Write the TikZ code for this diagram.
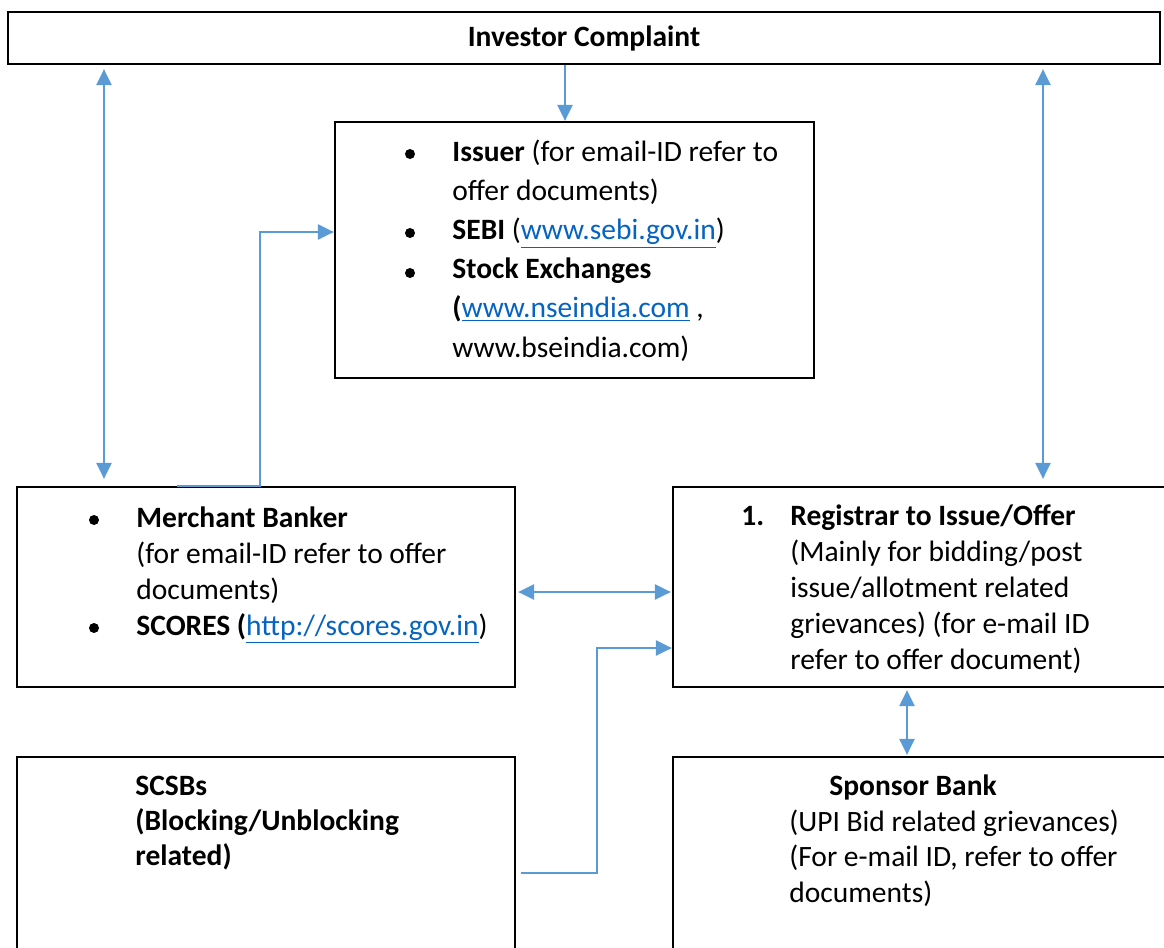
\documentclass[tikz,border=0pt]{standalone}
\usepackage{fontspec}
\setmainfont{Carlito}
\usetikzlibrary{positioning,arrows.meta,fit,calc}
\definecolor{pfeil}{RGB}{91,155,213}
\definecolor{link}{RGB}{5,99,193}
\tikzset{>=latex}
\newcommand\web[1]{\textcolor{link}{\underline{#1}}}

\begin{document}
\begin{tikzpicture}[x=0.5pt,y=-0.5pt]
        \fontsize{14.75}{18}\selectfont
        \tikzset{
        box/.style={draw=black, line width=1.1pt, inner sep=0pt},
        txt/.style={anchor=base west, inner sep=0pt, align=left}, % base = last line
        dot/.style={circle, fill=black, minimum size=5pt, inner sep=0pt},
        conn/.style={draw=pfeil, line width=1.25pt},
        tip/.style={-{Triangle[length=8pt,width=7.5pt]}},
        tips/.style={{Triangle[length=8pt,width=7.5pt]}-{Triangle[length=8pt,width=7.5pt]}},
        }

        \clip (0,0) rectangle (1164,948);

        % Boxes.
        \node[box, fit={(8,12) (1160,64)}]   (ic) {};
        \node[box, fit={(335,122) (814,378)}] (is) {};
        \node[box, fit={(17,487) (515,687)}]  (mb) {};
        \node[box, fit={(673,487) (1175,687)}] (rg) {};
        \node[box, fit={(17,757) (515,960)}]  (sc) {};
        \node[box, fit={(673,757) (1175,960)}] (sp) {};

        \path (ic.center) node[font=\bfseries] (ictext) {Investor Complaint};

        % Issuer, SEBI, stock exchanges.
        \foreach \y in {154,233,273} \path (410,\y) node[dot] (isdot\y) {};
        \path (452,357) node[txt, font=\fontsize{14.75}{19.6}\selectfont] (istext)
          {\textbf{Issuer} (for email-ID refer to\\offer documents)\\\textbf{SEBI} (\web{www.sebi.gov.in})\\
           \textbf{Stock Exchanges}\\\textbf{(}\web{www.nseindia.com} ,\\www.bseindia.com)};

        % Merchant banker.
        \foreach \y in {520,628} \path (94,\y) node[dot] (mbdot\y) {};
        \path (136,635) node[txt] (mbtext)
          {\textbf{Merchant Banker}\\(for email-ID refer to offer\\documents)\\\textbf{SCORES (}\web{http://scores.gov.in})};

        % Registrar.
        \path (741,525) node[txt] (rgnum) {\textbf{1.}};
        \path (790,669) node[txt] (rgtext)
          {\textbf{Registrar to Issue/Offer}\\(Mainly for bidding/post\\issue/allotment related\\grievances) (for e-mail ID\\refer to offer document)};

        % SCSBs.
        \path (135,865) node[txt, font=\fontsize{14.75}{17.5}\selectfont] (sctext)
          {\textbf{SCSBs}\\\textbf{(Blocking/Unblocking}\\\textbf{related)}};

        % Sponsor bank.
        \path (829,795) node[txt] (sphead) {\textbf{Sponsor Bank}};
        \path (789,902) node[txt, font=\fontsize{14.75}{17.75}\selectfont] (sptext)
          {(UPI Bid related grievances)\\(For e-mail ID, refer to offer\\documents)};

        % Connectors.
        \coordinate (lx) at (104,0);
        \coordinate (mx) at (565,0);
        \coordinate (rx) at (1043,0);
        \coordinate (sx) at (907,0);
        \draw[conn, tips, shorten <=2pt, shorten >=3.5pt] (ic.south -| lx) -- (mb.north -| lx);
        \draw[conn, tip] (ic.south -| mx) -- (is.north -| mx);
        \draw[conn, tips, shorten <=2pt, shorten >=3.5pt] (ic.south -| rx) -- (rg.north -| rx);
        \draw[conn, tip] ($(mb.north west)+(161,0)$) -| (260,232) -- (is.west |- 0,232);
        \draw[conn, tips, shorten <=1pt, shorten >=0.5pt] (mb.east |- 0,592) -- (rg.west |- 0,592);
        \draw[conn, tip] ($(sc.east |- 0,873)+(5,0)$) -| (597,648) -- (rg.west |- 0,648);
        \draw[conn, tips, shorten <=1pt, shorten >=0.5pt] (rg.south -| sx) -- (sp.north -| sx);
      \end{tikzpicture}
\end{document}
